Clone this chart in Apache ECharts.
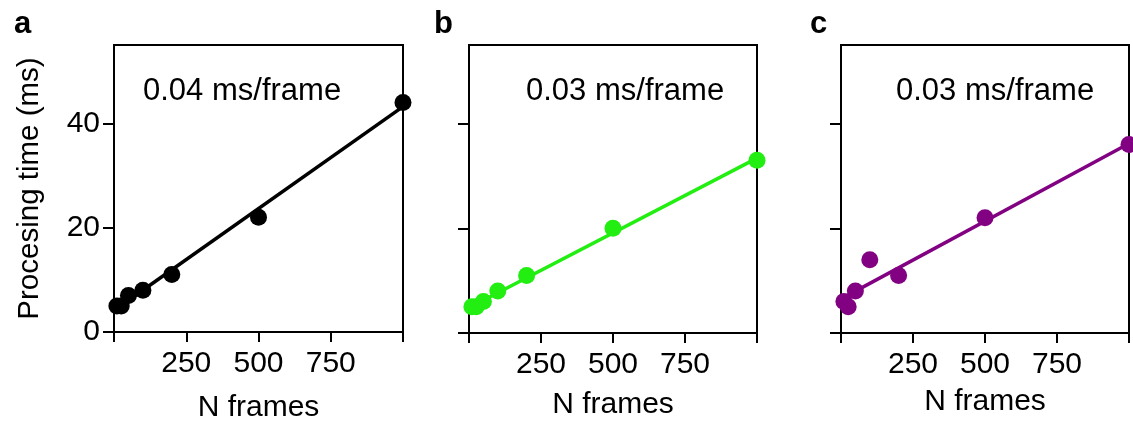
<!DOCTYPE html>
<html>
<head>
<meta charset="utf-8">
<script src="https://cdn.jsdelivr.net/npm/echarts@6/dist/echarts.min.js"></script>
<style>html,body{margin:0;padding:0;background:#fff}#c{width:1133px;height:428px}</style>
</head>
<body>
<div id="c"></div>
<script>
// Data
const nFrames = [10, 25, 50, 100, 200, 500, 1000];
const timeA = [5, 5, 7, 8, 11, 22, 44];
const timeB = [5, 5, 6, 8, 11, 20, 33];
const timeC = [6, 5, 8, 14, 11, 22, 36];
const fitA = [[10, 4.5], [1000, 43.2]];
const fitB = [[10, 5.1], [1000, 33.4]];
const fitC = [[10, 6.8], [1000, 36.2]];
const panelLetters = ['a', 'b', 'c'];
const rateLabels = ['0.04 ms/frame', '0.03 ms/frame', '0.03 ms/frame'];
const xTicks = [0, 250, 500, 750, 1000];
const xLabels = [250, 500, 750];
const yTicks = [0, 20, 40];
const xName = 'N frames';
const yName = 'Procesing time (ms)';

const colors = ['#000000', '#22ee11', '#820082'];
const pts = [timeA, timeB, timeC];
const fits = [fitA, fitB, fitC];
const grids = [
  {left: 114, top: 45, width: 289, height: 288},
  {left: 469, top: 45, width: 288, height: 288},
  {left: 841, top: 45, width: 288, height: 288}
];
const nameGaps = [61, 57, 54];
const letterPos = [9, 429, 805];
const ratePos = [138, 521, 891];
const FONT = '"Liberation Sans", Arial, sans-serif';

const option = {
  animation: false,
  backgroundColor: '#fff',
  textStyle: {fontFamily: FONT},
  title: [],
  grid: [], xAxis: [], yAxis: [], series: []
};
for (let i = 0; i < 3; i++) {
  option.title.push({text: panelLetters[i], left: letterPos[i], top: 4,
    textStyle: {fontFamily: FONT, fontSize: 31, fontWeight: 'bold', color: '#000'}});
  option.title.push({text: rateLabels[i], left: ratePos[i], top: 71,
    textStyle: {fontFamily: FONT, fontSize: 31, fontWeight: 'normal', color: '#000'}});
  option.grid.push(Object.assign({show: true, borderColor: '#000', borderWidth: 2, backgroundColor: 'transparent'}, grids[i]));
  option.xAxis.push({
    type: 'value', gridIndex: i, min: 0, max: 1000, interval: 250,
    name: xName, nameLocation: 'middle', nameGap: nameGaps[i],
    nameTextStyle: {fontFamily: FONT, fontSize: 30, color: '#000'},
    axisLine: {show: true, lineStyle: {color: '#000', width: 2}},
    axisTick: {show: true, length: 10, lineStyle: {color: '#000', width: 2}, customValues: xTicks},
    axisLabel: {show: true, fontFamily: FONT, fontSize: 30, color: '#000', margin: 17, customValues: xLabels},
    splitLine: {show: false}
  });
  option.yAxis.push({
    type: 'value', gridIndex: i, min: 0, max: 55, interval: 20,
    name: i === 0 ? yName : '', nameLocation: 'middle', nameGap: 69,
    nameTextStyle: {fontFamily: FONT, fontSize: 29.5, color: '#000'},
    axisLine: {show: true, lineStyle: {color: '#000', width: 2}},
    axisTick: {show: true, length: 11, lineStyle: {color: '#000', width: 2}, customValues: yTicks},
    axisLabel: {show: i === 0, fontFamily: FONT, fontSize: 30, color: '#000', margin: 14, customValues: yTicks},
    splitLine: {show: false}
  });
  option.series.push({
    type: 'line', xAxisIndex: i, yAxisIndex: i, data: fits[i],
    showSymbol: false, symbol: 'none', lineStyle: {color: colors[i], width: 3.5}, z: 2
  });
  option.series.push({
    type: 'scatter', xAxisIndex: i, yAxisIndex: i,
    data: nFrames.map((x, k) => [x, pts[i][k]]),
    symbol: 'circle', symbolSize: 17, itemStyle: {color: colors[i], opacity: 1}, z: 3
  });
}
const chart = echarts.init(document.getElementById('c'), null, {renderer: 'canvas'});
chart.setOption(option);
</script>
</body>
</html>
